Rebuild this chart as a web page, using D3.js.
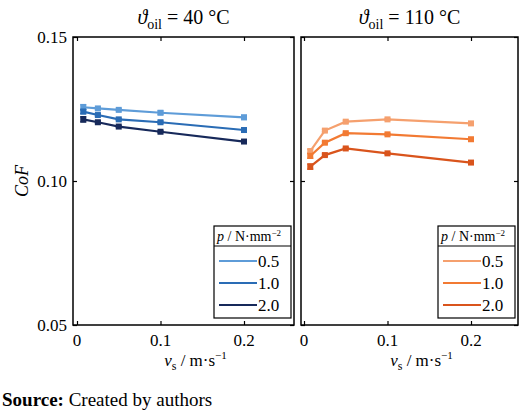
<!DOCTYPE html>
<html>
<head>
<meta charset="UTF-8">
<script src="https://d3js.org/d3.v7.min.js"></script>
<style>
body { margin: 0; background: #fff; }
svg text { font-family: "Liberation Serif", "DejaVu Serif", serif; fill: #000; }
</style>
</head>
<body>
<svg id="chart" width="520" height="420" font-family="Liberation Serif, DejaVu Serif, serif"></svg>
<script>
// speeds in m/s
const speeds = [0.0075, 0.025, 0.05, 0.1, 0.2];
const pressures = ["0.5", "1.0", "2.0"];
const cof40 = [
  [0.1256, 0.1252, 0.1247, 0.1237, 0.1221],
  [0.1241, 0.1229, 0.1214, 0.1204, 0.1177],
  [0.1214, 0.1204, 0.1189, 0.1171, 0.1137]
];
const err40 = [
  [0.0009, 0.0004, 0.0003, 0.0006, 0.0007],
  [0.0007, 0.0004, 0.0003, 0.0004, 0.0005],
  [0.0009, 0.0004, 0.0002, 0.0003, 0.0002]
];
const cof110 = [
  [0.1104, 0.1175, 0.1206, 0.1214, 0.1200],
  [0.1087, 0.1133, 0.1166, 0.1162, 0.1145],
  [0.1050, 0.1090, 0.1113, 0.1096, 0.1064]
];
const err110 = [
  [0.0006, 0.0004, 0.0004, 0.0003, 0.0003],
  [0.0008, 0.0004, 0.0003, 0.0003, 0.0003],
  [0.0009, 0.0004, 0.0003, 0.0002, 0.0002]
];
const yTicks = [0.05, 0.10, 0.15];
const xTicks = [0, 0.1, 0.2];
const blues = ["#5e9cd8", "#2a6cb5", "#17295a"];
const oranges = ["#f5a06e", "#f27a33", "#d9541c"];

const svg = d3.select("#chart");
const y = d3.scaleLinear().domain([0.05, 0.15]).range([325, 37]);

const panels = [
  { left: 73, right: 294, zero: 77, title: "40", data: cof40, err: err40, colors: blues },
  { left: 301, right: 518, zero: 304, title: "110", data: cof110, err: err110, colors: oranges }
];

panels.forEach((p, pi) => {
  const x = d3.scaleLinear().domain([0, 0.1]).range([p.zero, p.zero + 83.5]);
  const g = svg.append("g");

  // ticks
  g.append("g").attr("transform", `translate(${p.left},0)`)
    .call(d3.axisRight(y).tickValues(yTicks).tickSize(4).tickFormat(""))
    .call(a => a.select(".domain").remove());
  g.append("g").attr("transform", `translate(${p.right},0)`)
    .call(d3.axisLeft(y).tickValues(yTicks).tickSize(4).tickFormat(""))
    .call(a => a.select(".domain").remove());
  g.append("g").attr("transform", "translate(0,325)")
    .call(d3.axisTop(x).tickValues(xTicks).tickSize(4).tickFormat(""))
    .call(a => a.select(".domain").remove());
  g.append("g").attr("transform", "translate(0,37)")
    .call(d3.axisBottom(x).tickValues(xTicks).tickSize(4).tickFormat(""))
    .call(a => a.select(".domain").remove());
  g.selectAll(".tick line").attr("stroke", "#000").attr("stroke-width", 1.2);

  xTicks.forEach(t => {
    g.append("text").attr("x", x(t)).attr("y", 346).attr("text-anchor", "middle")
      .attr("font-size", 17).text(t === 0 ? "0" : t.toFixed(1));
  });
  if (pi === 0) {
    yTicks.forEach(t => {
      g.append("text").attr("x", p.left - 6).attr("y", y(t) + 6).attr("text-anchor", "end")
        .attr("font-size", 17).text(t.toFixed(2));
    });
  }

  // series
  const line = d3.line().x((d, i) => x(speeds[i])).y(d => y(d));
  p.data.forEach((s, si) => {
    const c = p.colors[si];
    g.append("path").attr("d", line(s)).attr("fill", "none")
      .attr("stroke", c).attr("stroke-width", 2.2);
    s.forEach((v, i) => {
      const cx = x(speeds[i]), e = p.err[si][i];
      g.append("line").attr("x1", cx).attr("x2", cx).attr("y1", y(v - e)).attr("y2", y(v + e))
        .attr("stroke", c).attr("stroke-width", 1.5);
      [v - e, v + e].forEach(w => g.append("line").attr("x1", cx - 3).attr("x2", cx + 3)
        .attr("y1", y(w)).attr("y2", y(w)).attr("stroke", c).attr("stroke-width", 1.5));
      g.append("rect").attr("x", cx - 3).attr("y", y(v) - 3).attr("width", 6).attr("height", 6)
        .attr("fill", c);
    });
  });

  g.append("rect").attr("x", p.left).attr("y", 37).attr("width", p.right - p.left)
    .attr("height", 288).attr("fill", "none").attr("stroke", "#000").attr("stroke-width", 1.5);

  // title
  const t = g.append("text").attr("x", (p.left + p.right) / 2).attr("y", 24)
    .attr("text-anchor", "middle").attr("font-size", 20);
  t.append("tspan").attr("font-style", "italic").text("ϑ");
  t.append("tspan").attr("font-size", 14).attr("dy", 5).text("oil");
  t.append("tspan").attr("dy", -5).text(` = ${p.title} °C`);

  // x label
  const xl = g.append("text").attr("x", (p.left + p.right) / 2 + 12).attr("y", 366)
    .attr("text-anchor", "middle").attr("font-size", 17);
  xl.append("tspan").attr("font-style", "italic").text("v");
  xl.append("tspan").attr("font-size", 12).attr("dy", 4).text("s");
  xl.append("tspan").attr("dy", -4).text(" / m·s");
  xl.append("tspan").attr("font-size", 11).attr("dy", -7).text("−1");

  // legend
  const lx = p.right - 80, ly = 226, lw = 77;
  const lg = g.append("g");
  lg.append("rect").attr("x", lx).attr("y", ly).attr("width", lw).attr("height", 92)
    .attr("fill", "#fff").attr("stroke", "#000").attr("stroke-width", 1.2);
  lg.append("line").attr("x1", lx).attr("x2", lx + lw).attr("y1", ly + 20).attr("y2", ly + 20)
    .attr("stroke", "#000").attr("stroke-width", 1.2);
  const lt = lg.append("text").attr("x", lx + 3).attr("y", ly + 15).attr("font-size", 14);
  lt.append("tspan").attr("font-style", "italic").text("p");
  lt.append("tspan").text(" / N·mm");
  lt.append("tspan").attr("font-size", 9).attr("dy", -5).text("−2");
  pressures.forEach((pr, i) => {
    const yy = ly + 35 + i * 22;
    lg.append("line").attr("x1", lx + 5).attr("x2", lx + 43).attr("y1", yy).attr("y2", yy)
      .attr("stroke", p.colors[i]).attr("stroke-width", 2.2);
    lg.append("text").attr("x", lx + 44).attr("y", yy + 6).attr("font-size", 17).text(pr);
  });
});

// y label
svg.append("text").attr("transform", "translate(28,181) rotate(-90)")
  .attr("text-anchor", "middle").attr("font-size", 18).attr("font-style", "italic").text("CoF");

// source
const src = svg.append("text").attr("x", 2).attr("y", 406).attr("font-size", 19);
src.append("tspan").attr("font-weight", "bold").text("Source:");
src.append("tspan").text(" Created by authors");
</script>
</body>
</html>
